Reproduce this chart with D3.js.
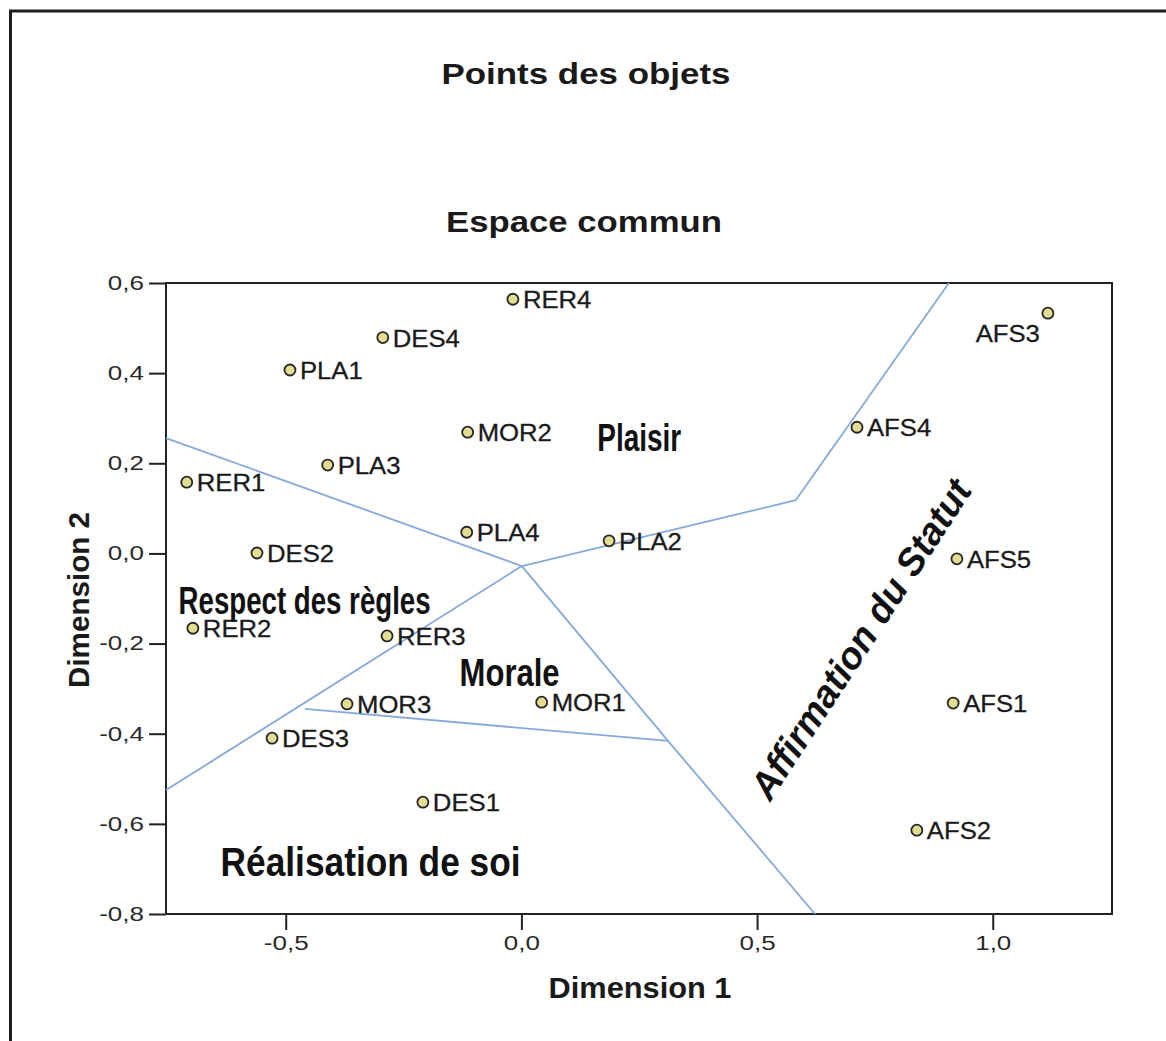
<!DOCTYPE html>
<html><head><meta charset="utf-8">
<script src="https://cdn.jsdelivr.net/npm/d3@7"></script>
<style>body{margin:0;background:#fff}svg{display:block}</style>
</head><body>
<script>
// ---- data ----
const pointLabels = ["RER4","DES4","PLA1","MOR2","PLA3","RER1","PLA4","PLA2","DES2","RER2","RER3","MOR3","MOR1","DES3","DES1","AFS3","AFS4","AFS5","AFS1","AFS2"];
const dim1 = [-0.018,-0.294,-0.491,-0.114,-0.411,-0.710,-0.116,0.186,-0.561,-0.697,-0.285,-0.370,0.043,-0.529,-0.209,1.117,0.712,0.924,0.916,0.839];
const dim2 = [0.564,0.479,0.407,0.269,0.196,0.158,0.047,0.028,0.001,-0.166,-0.183,-0.334,-0.330,-0.410,-0.552,0.533,0.280,-0.012,-0.332,-0.614];
const xTicks = [-0.5,0.0,0.5,1.0];
const yTicks = [-0.8,-0.6,-0.4,-0.2,0.0,0.2,0.4,0.6];
// region boundaries (polylines in data units)
const boundaryX = [[-0.754,0.001],[0.001,0.582,0.907],[0.001,0.311,0.623],[0.001,-0.754],[-0.459,0.311]];
const boundaryY = [[0.256,-0.028],[-0.028,0.118,0.6],[-0.028,-0.416,-0.8],[-0.028,-0.525],[-0.345,-0.416]];
const regionNames = ["Plaisir","Respect des règles","Morale","Réalisation de soi","Affirmation du Statut"];
const regionX = [0.25,-0.46,-0.025,-0.32,0.72];
const regionY = [0.255,-0.105,-0.265,-0.685,-0.19];

// ---- layout ----
const W = 1166, H = 1041;
const L = 166, R = 1112, T = 283, B = 914;
const svg = d3.select("body").append("svg").attr("width", W).attr("height", H);
const x = d3.scaleLinear().domain([-0.754, 1.253]).range([L, R]);
const y = d3.scaleLinear().domain([-0.8, 0.6]).range([B, T]);
const fmt = d => d3.format(".1f")(d).replace(".", ",").replace("−","-");
const FONT = "Liberation Sans, Arial, sans-serif";
const stretch = (sel, k) => sel.each(function(){
  const w = this.getComputedTextLength();
  d3.select(this).attr("textLength", w*k).attr("lengthAdjust","spacingAndGlyphs");
});

// outer border
svg.append("path").attr("d", `M10.5,${H} L10.5,11 L${W},11`).attr("fill","none").attr("stroke","#1e1e1e").attr("stroke-width",3);

// titles
svg.append("text").attr("x",586).attr("y",84).attr("text-anchor","middle")
  .attr("font-family",FONT).attr("font-weight","bold").attr("font-size",29)
  .attr("textLength",289).attr("lengthAdjust","spacingAndGlyphs").attr("fill","#1a1a1a").text("Points des objets");
svg.append("text").attr("x",584).attr("y",232).attr("text-anchor","middle")
  .attr("font-family",FONT).attr("font-weight","bold").attr("font-size",29)
  .attr("textLength",276).attr("lengthAdjust","spacingAndGlyphs").attr("fill","#1a1a1a").text("Espace commun");

// axes
const gx = svg.append("g").attr("transform",`translate(0,${B})`)
  .call(d3.axisBottom(x).tickValues(xTicks).tickFormat(fmt).tickSize(16).tickSizeOuter(0));
const gy = svg.append("g").attr("transform",`translate(${L},0)`)
  .call(d3.axisLeft(y).tickValues(yTicks).tickFormat(fmt).tickSize(17).tickSizeOuter(0));
[gx,gy].forEach(g=>{
  g.select(".domain").remove();
  g.selectAll(".tick line").attr("stroke","#222").attr("stroke-width",2);
  g.selectAll(".tick text").attr("font-family",FONT).attr("font-size",20).attr("fill","#2a2a2a");
});
gx.selectAll(".tick text").attr("y",22).attr("dy","0.71em");
gy.selectAll(".tick text").attr("x",-22);
stretch(gx.selectAll(".tick text"), 1.3);
stretch(gy.selectAll(".tick text"), 1.3);

// frame
svg.append("rect").attr("x",L).attr("y",T).attr("width",R-L).attr("height",B-T)
  .attr("fill","none").attr("stroke","#222").attr("stroke-width",2);

// axis titles
svg.append("text").attr("x",640).attr("y",998).attr("text-anchor","middle")
  .attr("font-family",FONT).attr("font-weight","bold").attr("font-size",29)
  .attr("textLength",183).attr("lengthAdjust","spacingAndGlyphs").attr("fill","#1a1a1a").text("Dimension 1");
svg.append("text").attr("transform","translate(89,600) rotate(-90)").attr("text-anchor","middle")
  .attr("font-family",FONT).attr("font-weight","bold").attr("font-size",29)
  .attr("textLength",176).attr("lengthAdjust","spacingAndGlyphs").attr("fill","#1a1a1a").text("Dimension 2");

// boundary lines
const line = d3.line().x(d=>x(d[0])).y(d=>y(d[1]));
boundaryX.forEach((xs,i)=>{
  const pts = xs.map((v,j)=>[v, boundaryY[i][j]]);
  svg.append("path").attr("d", line(pts)).attr("fill","none").attr("stroke","#86a9d9").attr("stroke-width",1.8);
});

// points
const pts = pointLabels.map((l,i)=>({l, x:dim1[i], y:dim2[i]}));
svg.append("g").selectAll("circle").data(pts).join("circle")
  .attr("cx",d=>x(d.x)).attr("cy",d=>y(d.y)).attr("r",5.5)
  .attr("fill","#e3dd92").attr("stroke","#262626").attr("stroke-width",1.8);
const lbl = svg.append("g").selectAll("text").data(pts).join("text")
  .attr("x",d=> d.l==="AFS3" ? x(d.x)-8 : x(d.x)+10)
  .attr("y",d=> d.l==="AFS3" ? y(d.y)+29 : y(d.y)+9)
  .attr("text-anchor",d=> d.l==="AFS3" ? "end" : "start")
  .attr("font-family",FONT).attr("font-size",24).attr("fill","#1a1a1a")
  .attr("stroke","#1a1a1a").attr("stroke-width",0.3)
  .text(d=>d.l);
stretch(lbl, 1.07);

// region names
const NARROW = "Liberation Sans Narrow, Arial Narrow, sans-serif";
const regionStyle = [
  {size:38, w:84, weight:"bold", style:"normal", rot:0},
  {size:38, w:252, weight:"bold", style:"normal", rot:0},
  {size:38, w:100, weight:"bold", style:"normal", rot:0},
  {size:40, w:300, weight:"bold", style:"normal", rot:0},
  {size:38, w:372, weight:"bold", style:"italic", rot:-57}
];
regionNames.forEach((n,i)=>{
  const s = regionStyle[i];
  svg.append("text")
    .attr("transform",`translate(${x(regionX[i])},${y(regionY[i])}) rotate(${s.rot})`)
    .attr("text-anchor","middle").attr("dominant-baseline","central")
    .attr("font-family",NARROW).attr("font-size",s.size).attr("font-weight",s.weight).attr("font-style",s.style)
    .attr("textLength",s.w).attr("lengthAdjust","spacingAndGlyphs")
    .attr("fill","#111").text(n);
});
</script>
</body></html>
